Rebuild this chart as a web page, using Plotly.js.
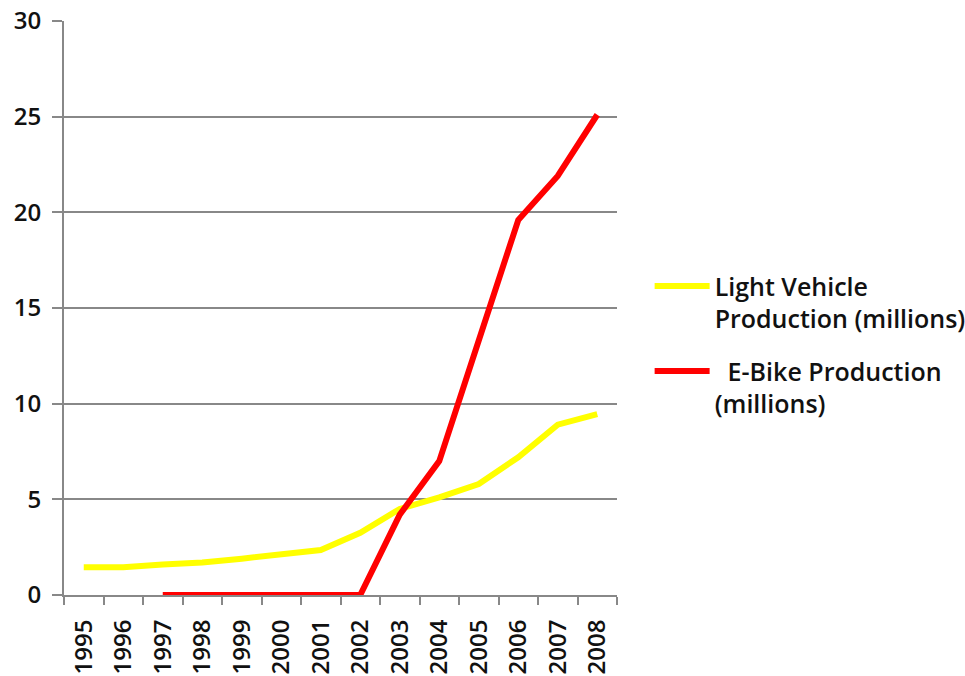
<!DOCTYPE html>
<html>
<head>
<meta charset="utf-8">
<script src="https://cdn.plot.ly/plotly-3.0.1.min.js"></script>
<style>
html,body{margin:0;padding:0;background:#fff;}
#chart{width:965px;height:676px;}
</style>
</head>
<body>
<div id="chart"></div>
<script>
const years = ["1995","1996","1997","1998","1999","2000","2001","2002","2003","2004","2005","2006","2007","2008"];
const lightVehicle = [1.45, 1.45, 1.6, 1.7, 1.9, 2.1, 2.35, 3.25, 4.5, 5.1, 5.8, 7.2, 8.9, 9.45];
const ebikeYears = ["1997","1998","1999","2000","2001","2002","2003","2004","2005","2006","2007","2008"];
const ebike = [0, 0, 0, 0, 0, 0, 4.2, 7.0, 13.3, 19.6, 21.9, 25.1];
const seriesNames = ["Light Vehicle<br>Production (millions)", "  E-Bike Production<br>(millions)"];

const traces = [
  {x: years, y: lightVehicle, type: "scatter", mode: "lines", name: seriesNames[0],
   legendgroup: "a", line: {color: "#ffff00", width: 6}},
  {x: ebikeYears, y: ebike, type: "scatter", mode: "lines", name: seriesNames[1],
   legendgroup: "b", line: {color: "#ff0000", width: 6}}
];

const layout = {
  width: 965, height: 676,
  margin: {l: 64, r: 348, t: 21, b: 81, autoexpand: false},
  paper_bgcolor: "#fff", plot_bgcolor: "#fff",
  font: {family: "Open Sans, sans-serif", color: "#111"},
  xaxis: {
    type: "category", categoryorder: "array", categoryarray: years,
    range: [-0.5, 13.5],
    showgrid: false, zeroline: false,
    showline: true, linecolor: "#888", linewidth: 2,
    ticks: "outside", tickson: "boundaries", ticklen: 8, tickcolor: "#888", tickwidth: 2,
    tickangle: -90, ticklabelstandoff: 13,
    tickfont: {size: 24, color: "#111", weight: 600}
  },
  yaxis: {
    range: [0, 30], tickvals: [0,5,10,15,20,25,30],
    showgrid: true, gridcolor: "#888", gridwidth: 2,
    zeroline: false, showline: true, linecolor: "#888", linewidth: 2,
    ticks: "outside", ticklen: 10, tickcolor: "#888", tickwidth: 2,
    ticklabelstandoff: 6,
    tickfont: {size: 24, color: "#111", weight: 600}
  },
  showlegend: true,
  legend: {
    x: 1.059, y: 0.578, xanchor: "left", yanchor: "top",
    valign: "top",
    font: {size: 25, color: "#111", weight: 600},
    itemwidth: 55, tracegroupgap: 17,
    bgcolor: "rgba(0,0,0,0)"
  }
};

Plotly.newPlot("chart", traces, layout, {displayModeBar: false, staticPlot: true});
</script>
</body>
</html>
